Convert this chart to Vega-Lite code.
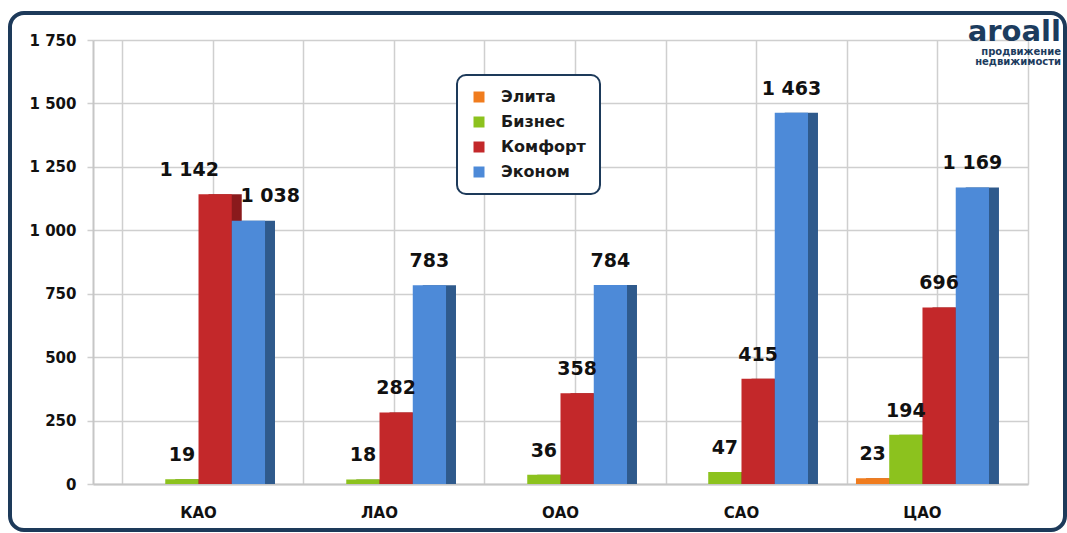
{
  "$schema": "https://vega.github.io/schema/vega-lite/v6.json",
  "width": 1055,
  "height": 517,
  "autosize": "none",
  "padding": {"left": 10, "top": 13, "right": 2, "bottom": 3},
  "background": "#ffffff",
  "view": {"stroke": "#1d3a5a", "strokeWidth": 4, "cornerRadius": 14},
  "config": {"font": "DejaVu Sans"},
  "title": {
    "text": "aroall",
    "subtitle": ["продвижение", "недвижимости"],
    "orient": "top",
    "anchor": "end",
    "frame": "group",
    "offset": -54,
    "dx": -4,
    "font": "DejaVu Sans",
    "fontSize": 29,
    "fontWeight": "bold",
    "color": "#1c3c5e",
    "subtitleFont": "DejaVu Sans",
    "subtitleFontSize": 10,
    "subtitleFontWeight": "bold",
    "subtitleColor": "#1c3c5e",
    "subtitleLineHeight": 10,
    "subtitlePadding": 0
  },
  "data": {
    "values": [
      {"okrug": "КАО", "segment": "Бизнес", "count": 19},
      {"okrug": "КАО", "segment": "Комфорт", "count": 1142},
      {"okrug": "КАО", "segment": "Эконом", "count": 1038},
      {"okrug": "ЛАО", "segment": "Бизнес", "count": 18},
      {"okrug": "ЛАО", "segment": "Комфорт", "count": 282},
      {"okrug": "ЛАО", "segment": "Эконом", "count": 783},
      {"okrug": "ОАО", "segment": "Бизнес", "count": 36},
      {"okrug": "ОАО", "segment": "Комфорт", "count": 358},
      {"okrug": "ОАО", "segment": "Эконом", "count": 784},
      {"okrug": "САО", "segment": "Бизнес", "count": 47},
      {"okrug": "САО", "segment": "Комфорт", "count": 415},
      {"okrug": "САО", "segment": "Эконом", "count": 1463},
      {"okrug": "ЦАО", "segment": "Элита", "count": 23},
      {"okrug": "ЦАО", "segment": "Бизнес", "count": 194},
      {"okrug": "ЦАО", "segment": "Комфорт", "count": 696},
      {"okrug": "ЦАО", "segment": "Эконом", "count": 1169}
    ]
  },
  "layer": [
    {
      "mark": {"type": "point", "opacity": 0},
      "encoding": {
        "x": {
          "datum": 0,
          "type": "quantitative",
          "scale": {"domain": [-0.32, 10], "range": [83, 1018], "nice": false, "zero": false},
          "axis": {
            "orient": "top",
            "offset": 0,
            "zindex": 0,
            "values": [0, 1, 2, 3, 4, 5, 6, 7, 8, 9, 10],
            "labels": false,
            "ticks": false,
            "domain": false,
            "grid": true,
            "gridColor": "#cfcfcf",
            "gridWidth": 1.5,
            "title": null
          }
        },
        "y": {
          "datum": 0,
          "type": "quantitative",
          "scale": {"domain": [0, 1750], "range": [471, 27], "nice": false, "zero": true},
          "axis": {
            "orient": "left", "offset": -83, "zindex": 0, "values": [0, 250, 500, 750, 1000, 1250, 1500, 1750],
            "labelExpr": "replace(format(datum.value, ','), ',', ' ')",
            "labelFont": "DejaVu Sans", "labelFontSize": 15, "labelFontWeight": "bold", "labelColor": "#111111", "labelPadding": 11,
            "tickSize": 6, "tickColor": "#cfcfcf", "tickWidth": 1.5,
            "domain": true, "domainColor": "#c6c6c6", "domainWidth": 2,
            "grid": true, "gridColor": "#cfcfcf", "gridWidth": 1.5, "title": null
          }
        }
      }
    },
    {
      "mark": {"type": "bar"},
      "encoding": {
        "x": {
          "field": "okrug",
          "type": "nominal",
          "sort": ["КАО", "ЛАО", "ОАО", "САО", "ЦАО"],
          "scale": {"domain": ["КАО", "ЛАО", "ОАО", "САО", "ЦАО"], "range": [83, 1018], "paddingInner": 0.265, "paddingOuter": 0.2155},
          "axis": {
            "orient": "bottom",
            "offset": -46,
            "zindex": 0,
            "title": null,
            "domain": true,
            "domainColor": "#c6c6c6",
            "domainWidth": 2,
            "ticks": false,
            "grid": false,
            "labelAngle": 0,
            "labelFont": "DejaVu Sans",
            "labelFontSize": 15,
            "labelFontWeight": "bold",
            "labelColor": "#111111",
            "labelPadding": 21
          }
        },
        "xOffset": {
          "field": "segment",
          "type": "nominal",
          "scale": {"domain": ["Элита", "Бизнес", "Комфорт", "Эконом"], "range": [10, 143], "paddingInner": 0, "paddingOuter": 0}
        },
        "y": {
          "field": "count",
          "type": "quantitative",
          "scale": {"domain": [0, 1750], "range": [471, 27], "nice": false, "zero": true},
          "axis": {
            "orient": "left", "offset": -83, "zindex": 0, "values": [0, 250, 500, 750, 1000, 1250, 1500, 1750],
            "labelExpr": "replace(format(datum.value, ','), ',', ' ')",
            "labelFont": "DejaVu Sans", "labelFontSize": 15, "labelFontWeight": "bold", "labelColor": "#111111", "labelPadding": 11,
            "tickSize": 6, "tickColor": "#cfcfcf", "tickWidth": 1.5,
            "domain": true, "domainColor": "#c6c6c6", "domainWidth": 2,
            "grid": true, "gridColor": "#cfcfcf", "gridWidth": 1.5, "title": null
          }
        },
        "fill": {
          "field": "segment",
          "type": "nominal",
          "scale": {"domain": ["Эконом", "Комфорт", "Бизнес", "Элита"], "range": ["#2f5a8c", "#8a1a1c", "#5f8a12", "#b35412"]},
          "legend": null
        }
      }
    },
    {
      "encoding": {
        "x": {
          "field": "okrug",
          "type": "nominal",
          "sort": ["КАО", "ЛАО", "ОАО", "САО", "ЦАО"],
          "scale": {"domain": ["КАО", "ЛАО", "ОАО", "САО", "ЦАО"], "range": [83, 1018], "paddingInner": 0.265, "paddingOuter": 0.2155},
          "axis": null
        },
        "xOffset": {
          "field": "segment",
          "type": "nominal",
          "scale": {"domain": ["Элита", "Бизнес", "Комфорт", "Эконом"], "paddingInner": 0, "paddingOuter": 0}
        },
        "y": {
          "field": "count",
          "type": "quantitative",
          "scale": {"domain": [0, 1750], "range": [471, 27], "nice": false, "zero": true},
          "axis": {
            "orient": "left", "offset": -83, "zindex": 0, "values": [0, 250, 500, 750, 1000, 1250, 1500, 1750],
            "labelExpr": "replace(format(datum.value, ','), ',', ' ')",
            "labelFont": "DejaVu Sans", "labelFontSize": 15, "labelFontWeight": "bold", "labelColor": "#111111", "labelPadding": 11,
            "tickSize": 6, "tickColor": "#cfcfcf", "tickWidth": 1.5,
            "domain": true, "domainColor": "#c6c6c6", "domainWidth": 2,
            "grid": true, "gridColor": "#cfcfcf", "gridWidth": 1.5, "title": null
          }
        }
      },
      "layer": [
        {
          "mark": {"type": "bar"},
          "encoding": {
            "color": {
              "field": "segment",
              "type": "nominal",
              "scale": {"domain": ["Элита", "Бизнес", "Комфорт", "Эконом"], "range": ["#f07c1e", "#8cc21e", "#c3282a", "#4d8ad8"]},
              "legend": {
                "title": null,
                "orient": "none",
                "legendX": 447,
                "legendY": 62,
                "zindex": 2,
                "direction": "vertical",
                "fillColor": "#ffffff",
                "strokeColor": "#1d3a5a",
                "cornerRadius": 9,
                "padding": 14,
                "rowPadding": 9,
                "symbolType": "square",
                "symbolSize": 121,
                "symbolStrokeWidth": 0,
                "symbolOpacity": 1,
                "labelOffset": 14,
                "labelFont": "DejaVu Sans",
                "labelFontSize": 16,
                "labelFontWeight": "bold",
                "labelColor": "#1a1a1a",
                "encode": {"legend": {"update": {"strokeWidth": {"value": 2}}}}
              }
            }
          }
        },
        {
          "transform": [{"filter": "!(datum.okrug === 'КАО' && (datum.segment === 'Комфорт' || datum.segment === 'Эконом'))"}],
          "mark": {"type": "text", "align": "center", "baseline": "alphabetic", "dy": -18, "font": "DejaVu Sans", "fontSize": 19, "fontWeight": "bold", "color": "#111111", "text": {"expr": "replace(format(datum.count, ','), ',', ' ')"}}
        },
        {
          "transform": [{"filter": "datum.okrug === 'КАО' && datum.segment === 'Комфорт'"}],
          "mark": {"type": "text", "align": "center", "baseline": "alphabetic", "dx": -26, "dy": -18, "font": "DejaVu Sans", "fontSize": 19, "fontWeight": "bold", "color": "#111111", "text": {"expr": "replace(format(datum.count, ','), ',', ' ')"}}
        },
        {
          "transform": [{"filter": "datum.okrug === 'КАО' && datum.segment === 'Эконом'"}],
          "mark": {"type": "text", "align": "left", "baseline": "alphabetic", "dx": -8, "dy": -19, "font": "DejaVu Sans", "fontSize": 19, "fontWeight": "bold", "color": "#111111", "text": {"expr": "replace(format(datum.count, ','), ',', ' ')"}}
        }
      ]
    }
  ],
  "resolve": {"scale": {"x": "independent", "xOffset": "independent"}, "axis": {"x": "independent"}}
}
